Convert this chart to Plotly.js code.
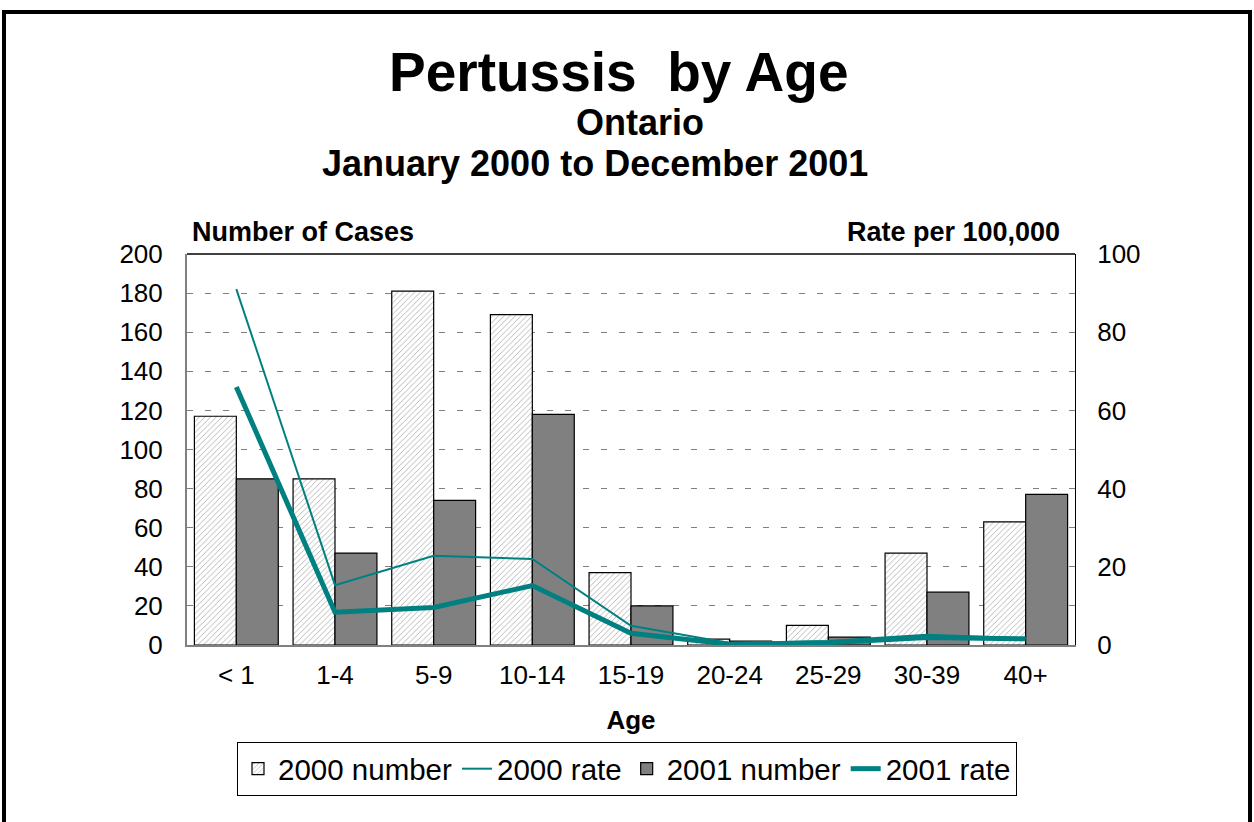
<!DOCTYPE html>
<html><head><meta charset="utf-8">
<script src="https://cdn.plot.ly/plotly-3.0.1.min.js"></script>
<style>html,body{margin:0;padding:0;background:#fff;}#chart{width:1254px;height:822px;}</style>
</head><body><div id="chart"></div>
<script>
var categories = ['< 1','1-4','5-9','10-14','15-19','20-24','25-29','30-39','40+'];
var num2000 = [117,85,181,169,37,3,10,47,63];
var num2001 = [85,47,74,118,20,2,4,27,77];
var rate2000 = [91,15.3,22.8,22,4.9,0.5,1.0,2.6,1.7];
var rate2001 = [66,8.4,9.6,15.2,3.0,0.2,0.6,1.9,1.6];
var leftTicks = [0,20,40,60,80,100,120,140,160,180,200];
var rightTicks = [0,20,40,60,80,100];

var W=1254,H=822, L=187, R=1075, T=254, B=645;
function xp(px){return (px-L)/(R-L);}
function yp(py){return (B-py)/(B-T);}
var FONT='Arial, "Liberation Sans", sans-serif';
var teal='#008080';

var traces=[
 {type:'bar',name:'2000 number',x:categories,y:num2000,
  marker:{color:'#ffffff',line:{color:'#000',width:1.2},pattern:{shape:'/',fgcolor:'#a8a8a8',bgcolor:'#ffffff',size:4,solidity:0.2}}},
 {type:'scatter',mode:'lines',name:'2000 rate',x:categories,y:rate2000,yaxis:'y2',line:{color:teal,width:2}},
 {type:'bar',name:'2001 number',x:categories,y:num2001,marker:{color:'#808080',line:{color:'#000',width:1.2}}},
 {type:'scatter',mode:'lines',name:'2001 rate',x:categories,y:rate2001,yaxis:'y2',line:{color:teal,width:5}}
];

var layout={
 width:W,height:H,
 margin:{l:L,r:W-R,t:T,b:H-B,pad:0},
 paper_bgcolor:'#fff',plot_bgcolor:'#fff',
 font:{family:FONT,size:26,color:'#000'},
 barmode:'group',bargap:0.15,bargroupgap:0,
 showlegend:true,
 legend:{orientation:'h',x:xp(237),y:yp(742),xanchor:'left',yanchor:'top',
   bordercolor:'#000',borderwidth:1,font:{family:FONT,size:29.5},traceorder:'normal',itemwidth:30,bgcolor:'#fff'},
 xaxis:{type:'category',tickmode:'array',tickvals:categories,ticktext:categories,
   showline:true,linecolor:'#808080',linewidth:2,ticks:'',tickfont:{size:26},ticklabelstandoff:6,
   title:{text:'<b>Age</b>',font:{size:26},standoff:22},showgrid:false,zeroline:false},
 yaxis:{range:[0,200],tickvals:leftTicks,showline:true,linecolor:'#808080',linewidth:2,
   showgrid:true,gridcolor:'#8a7a7a',griddash:'6px,12px',gridwidth:1,zeroline:false,ticks:'',
   ticklabelstandoff:17,tickfont:{size:26}},
 yaxis2:{range:[0,100],tickvals:rightTicks,overlaying:'y',side:'right',showline:true,linecolor:'#000',linewidth:1,
   showgrid:false,zeroline:false,ticks:'',ticklabelstandoff:16,tickfont:{size:26}},
 annotations:[
  {text:'<b>Pertussis  by Age</b>',xref:'paper',yref:'paper',x:xp(619),y:yp(72),xanchor:'center',yanchor:'middle',showarrow:false,font:{size:55}},
  {text:'<b>Ontario</b>',xref:'paper',yref:'paper',x:xp(640),y:yp(123),xanchor:'center',yanchor:'middle',showarrow:false,font:{size:36}},
  {text:'<b>January 2000 to December 2001</b>',xref:'paper',yref:'paper',x:xp(595),y:yp(163),xanchor:'center',yanchor:'middle',showarrow:false,font:{size:36}},
  {text:'<b>Number of Cases</b>',xref:'paper',yref:'paper',x:xp(190),y:yp(232),xanchor:'left',yanchor:'middle',showarrow:false,font:{size:27}},
  {text:'<b>Rate per 100,000</b>',xref:'paper',yref:'paper',x:xp(1062),y:yp(232),xanchor:'right',yanchor:'middle',showarrow:false,font:{size:27}}
 ],
 shapes:[
  {type:'line',xref:'paper',yref:'paper',x0:0,x1:1,y0:1,y1:1,line:{color:'#000',width:1.5}},
  {type:'rect',xref:'paper',yref:'paper',x0:xp(4),x1:xp(1250),y0:yp(12),y1:yp(840),line:{color:'#000',width:4},fillcolor:'rgba(0,0,0,0)'}
 ]
};
Plotly.newPlot('chart',traces,layout,{displayModeBar:false,staticPlot:true});
</script></body></html>
